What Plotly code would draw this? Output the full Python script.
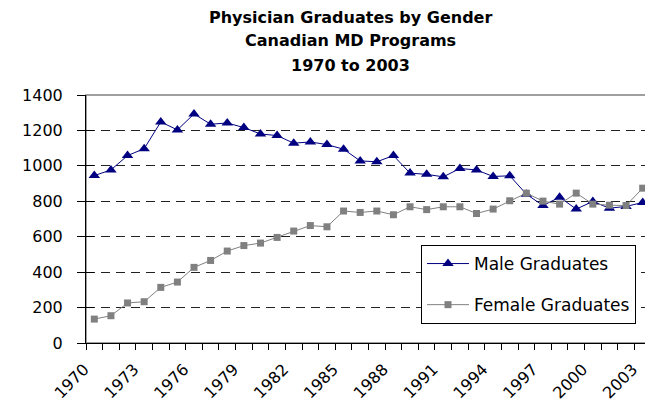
import plotly.graph_objects as go

years = list(range(1970, 2004))
male_graduates = [945, 977, 1058, 1097, 1248, 1203, 1293, 1235, 1242, 1216,
                  1180, 1171, 1128, 1135, 1120, 1094, 1028, 1023, 1058, 959,
                  952, 938, 985, 977, 940, 944, 840, 776, 823, 756,
                  799, 761, 771, 793]
female_graduates = [135, 154, 226, 233, 314, 344, 427, 466, 519, 550,
                    564, 596, 632, 663, 656, 745, 737, 745, 724, 769,
                    753, 769, 769, 731, 756, 803, 846, 801, 784, 846,
                    784, 778, 776, 874]
label_years = list(range(1970, 2004, 3))
title_lines = ["Physician Graduates by Gender", "Canadian MD Programs", "1970 to 2003"]

font_family = "DejaVu Sans"
page_offset = 8  # the browser's default body margin pushes the figure 8px right/down

fig = go.Figure()

fig.add_trace(
    go.Scatter(
        x=years,
        y=male_graduates,
        mode="lines+markers",
        line=dict(color="#000080", width=1),
        marker=dict(symbol="triangle-up", size=10, color="#000080"),
        name="Male Graduates",
        legendgroup="m",
    )
)
fig.add_trace(
    go.Scatter(
        x=years,
        y=female_graduates,
        mode="lines+markers",
        line=dict(color="#808080", width=1),
        marker=dict(symbol="square", size=7, color="#808080"),
        name="Female Graduates",
        legendgroup="f",
    )
)
# empty trace so the overlay axes (year labels, inner y ticks) get drawn
fig.add_trace(
    go.Scatter(x=[], y=[], xaxis="x2", yaxis="y2", showlegend=False, hoverinfo="skip")
)

# plot area border (grey top / right like the Excel chart)
fig.add_shape(
    type="rect", xref="paper", yref="paper", x0=0, x1=1, y0=0, y1=1,
    line=dict(color="#808080", width=1.5), layer="below",
)

# three-line title
for i, line in enumerate(title_lines):
    fig.add_annotation(
        text=f"<b>{line}</b>",
        xref="paper", yref="paper",
        x=(350 - 86) / 565, y=(343 - (17 + 24 * i)) / 248,
        xanchor="center", yanchor="middle",
        showarrow=False,
        font=dict(family=font_family, size=16, color="black"),
    )

fig.update_layout(
    width=653 - page_offset,
    height=413 - page_offset,
    margin=dict(l=86 - page_offset, r=2, t=95 - page_offset, b=70),
    paper_bgcolor="white",
    plot_bgcolor="white",
    font=dict(family=font_family, size=16, color="black"),
    xaxis=dict(
        range=[1969.5, 2003.5],
        tick0=1969.5,
        dtick=1,
        ticks="outside",
        ticklen=6,
        tickcolor="black",
        showticklabels=False,
        showgrid=False,
        zeroline=False,
        showline=True,
        linecolor="black",
        linewidth=1,
        automargin=False,
    ),
    xaxis2=dict(
        range=[1969.5, 2003.5],
        overlaying="x",
        side="bottom",
        anchor="y",
        tickvals=label_years,
        ticktext=[str(y) for y in label_years],
        tickangle=-45,
        ticks="",
        ticklabelstandoff=13,
        ticklabelshift=-10,
        showgrid=False,
        zeroline=False,
        showline=False,
        automargin=False,
        tickfont=dict(size=16),
    ),
    yaxis=dict(
        range=[0, 1400],
        dtick=200,
        ticks="outside",
        ticklen=8,
        tickcolor="black",
        ticklabelstandoff=11,
        showgrid=True,
        gridcolor="#222222",
        griddash="9px,6px",
        gridwidth=1,
        zeroline=False,
        showline=True,
        linecolor="black",
        linewidth=1,
        automargin=False,
        tickfont=dict(size=16),
    ),
    yaxis2=dict(
        range=[0, 1400],
        dtick=200,
        overlaying="y",
        side="left",
        anchor="x",
        ticks="inside",
        ticklen=8,
        tickcolor="black",
        showticklabels=False,
        showgrid=False,
        zeroline=False,
        automargin=False,
    ),
    legend=dict(
        x=(421 - 86) / 565,
        xanchor="left",
        y=(343 - 245) / 248,
        yanchor="top",
        bordercolor="black",
        borderwidth=1,
        bgcolor="white",
        tracegroupgap=16,
        itemwidth=42,
        font=dict(size=17),
    ),
    showlegend=True,
)

fig.write_html("out.html")
